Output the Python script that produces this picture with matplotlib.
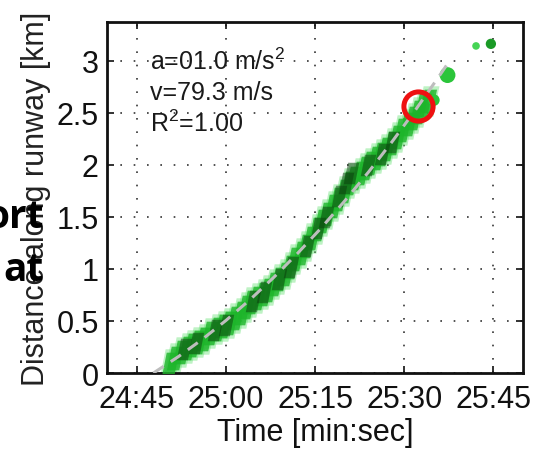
import matplotlib
matplotlib.use("Agg")
import matplotlib.pyplot as plt
from matplotlib.path import Path
from matplotlib.ticker import FuncFormatter

# time axis is seconds after 24:00
track_t = [50.6, 51.5, 52.5, 53.4, 54.3, 55.3, 56.3, 57.4, 58.5, 59.6, 60.5, 61.5,
           62.5, 63.4, 64.3, 65.3, 66.2, 67.1, 68.1, 69.0, 69.9, 70.8, 71.7, 72.6,
           73.5, 74.4, 75.3, 76.2, 77.1, 78.0, 78.9, 79.8, 80.7, 81.6, 82.5, 83.4,
           84.3, 85.2, 86.1, 87.0, 87.9, 88.8, 89.7, 90.6, 91.5, 92.4, 93.2, 94.0]
track_d = [0.09, 0.14, 0.20, 0.24, 0.27, 0.30, 0.33, 0.38, 0.42, 0.45, 0.48, 0.53,
           0.58, 0.63, 0.68, 0.72, 0.76, 0.80, 0.85, 0.90, 0.95, 1.02, 1.09, 1.15,
           1.22, 1.30, 1.38, 1.46, 1.53, 1.60, 1.67, 1.75, 1.82, 1.87, 1.92, 1.97,
           2.02, 2.06, 2.10, 2.15, 2.21, 2.27, 2.33, 2.39, 2.45, 2.51, 2.57, 2.61]

# darker returns inside the track
dark_t = [53.0, 55.0, 58.2, 60.0, 64.5, 66.5, 69.0, 71.0, 73.7, 75.5, 76.8, 79.0,
          80.3, 81.0, 84.0, 86.2, 88.0]
dark_d = [0.23, 0.29, 0.41, 0.46, 0.69, 0.78, 0.90, 1.02, 1.22, 1.39, 1.50, 1.70,
          1.82, 1.92, 2.00, 2.10, 2.22]

# isolated detections past the end of the track
stray_t = [95.0, 97.3, 102.1, 104.6]
stray_d = [2.62, 2.86, 3.14, 3.16]

# fitted constant-acceleration curve
fit_t = [47.8, 52.0, 56.0, 60.0, 64.0, 68.0, 72.0, 76.0, 80.0, 84.0, 88.0, 92.0, 96.0, 97.8]
fit_d = [0.0, 0.157, 0.322, 0.504, 0.701, 0.915, 1.145, 1.390, 1.652, 1.929, 2.223,
         2.533, 2.859, 3.01]

liftoff_t = 92.4
liftoff_d = 2.56

fit_lines = ["a=01.0 m/s$^2$", "v=79.3 m/s", "R$^2$=1.00"]
fit_line_d = [2.92, 2.635, 2.32]

xticks = [45, 60, 75, 90, 105]
yticks = [0, 0.5, 1, 1.5, 2, 2.5, 3]

plt.rcParams["font.family"] = ["Liberation Sans", "DejaVu Sans"]
plt.rcParams["mathtext.fontset"] = "custom"
plt.rcParams["mathtext.rm"] = "Liberation Sans"

fig = plt.figure(figsize=(5.33, 4.56), dpi=100)
ax = fig.add_axes([0.2008, 0.1798, 0.7804, 0.7698])

# slanted streak used for the radar returns
streak = Path([(-0.36, -0.5), (0.16, -0.5), (0.36, 0.5), (-0.16, 0.5), (-0.36, -0.5)],
              [Path.MOVETO, Path.LINETO, Path.LINETO, Path.LINETO, Path.CLOSEPOLY])

ax.scatter(track_t, track_d, s=480, marker=streak, color="#5ee06c", alpha=0.4,
           linewidths=0, zorder=2)
ax.scatter(track_t, track_d, s=290, marker=streak, color="#1db52a", alpha=0.8,
           linewidths=0, zorder=3)
ax.scatter(dark_t, dark_d, s=240, marker=streak, color="#0b3d0d", alpha=0.5,
           linewidths=0, zorder=4)
ax.scatter(stray_t, stray_d, s=[70, 130, 30, 55], marker="o",
           color=["#2bc53a", "#2bc53a", "#45d455", "#1a9a26"], linewidths=0, zorder=3)

ax.plot(fit_t, fit_d, color="#bdbdbd", lw=2.2, dashes=(4, 2.8), zorder=5)

ax.plot([liftoff_t], [liftoff_d], marker="o", ms=21, mfc="none", mec="#ee1111",
        mew=3.6, zorder=6)

for line, y in zip(fit_lines, fit_line_d):
    ax.text(47.3, y, line, fontsize=18, va="baseline", ha="left",
            color="#1a1a1a", zorder=7)

ax.set_xlim(40, 110)
ax.set_ylim(0, 3.37)
ax.set_xticks(xticks)
ax.set_yticks(yticks)
ax.xaxis.set_major_formatter(FuncFormatter(lambda t, _: f"{24 + int(t // 60)}:{int(t % 60):02d}"))
ax.yaxis.set_major_formatter(FuncFormatter(lambda v, _: f"{v:g}"))
ax.tick_params(direction="in", length=5, width=1.2, top=True, right=True,
               labelsize=22, pad=8, colors="#111111")
ax.tick_params(axis="y", pad=6)

ax.grid(True, color="#333333", lw=1.2, linestyle=(0, (1, 7)))
ax.set_axisbelow(True)
for sp in ax.spines.values():
    sp.set_linewidth(2.0)
    sp.set_color("#111111")

ax.set_xlabel("Time [min:sec]", fontsize=22, labelpad=2, color="#111111")
ax.set_ylabel("Distance along runway [km]", fontsize=22, labelpad=4, color="#222222")

# bold fragments of neighbouring text
fig.text(44 / 533, 1 - 228 / 456, "ort", fontsize=28, fontweight="bold",
         family="Open Sans", ha="right", va="baseline", color="black")
fig.text(44 / 533, 1 - 281 / 456, "at", fontsize=28, fontweight="bold",
         family="Open Sans", ha="right", va="baseline", color="black")

fig.savefig("out.png", dpi=100)
